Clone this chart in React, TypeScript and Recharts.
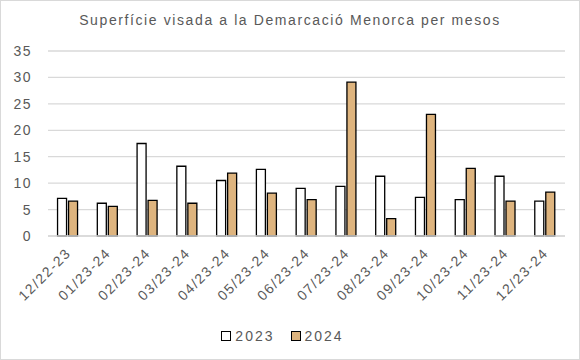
import React from 'react';
import { BarChart, Bar, XAxis, YAxis, CartesianGrid, Legend } from 'recharts';

const months = [
  '12/22-23', '01/23-24', '02/23-24', '03/23-24', '04/23-24', '05/23-24', '06/23-24',
  '07/23-24', '08/23-24', '09/23-24', '10/23-24', '11/23-24', '12/23-24',
];
const values2023 = [7.1, 6.2, 17.5, 13.2, 10.5, 12.6, 9.0, 9.4, 11.3, 7.3, 6.9, 11.3, 6.6];
const values2024 = [6.6, 5.6, 6.75, 6.2, 11.9, 8.1, 6.9, 29.1, 3.3, 23.0, 12.8, 6.6, 8.3];
const yTicks = [0, 5, 10, 15, 20, 25, 30, 35];

const data = months.map((m, i) => ({ month: m, y2023: values2023[i], y2024: values2024[i] }));

const FONT = '"Liberation Sans", Arial, sans-serif';
const TEXT = '#595959';

const XTick = (props: any) => {
  const { x, y, payload } = props;
  return (
    <text
      x={x + 4}
      y={y + 10}
      transform={`rotate(-45, ${x + 4}, ${y + 10})`}
      textAnchor="end"
      fontFamily={FONT}
      fontSize={14}
      letterSpacing={1.5}
      fill={TEXT}
    >
      {payload.value}
    </text>
  );
};

const LegendContent = () => (
  <div style={{ display: 'flex', justifyContent: 'center', gap: 16, marginTop: 8, fontFamily: FONT, fontSize: 14, letterSpacing: 2, color: TEXT }}>
    {[
      { name: '2023', fill: '#ffffff' },
      { name: '2024', fill: '#deb47e' },
    ].map((s) => (
      <span key={s.name} style={{ display: 'flex', alignItems: 'center', gap: 4 }}>
        <span style={{ width: 8, height: 8, border: '1px solid #000', background: s.fill, display: 'inline-block' }} />
        {s.name}
      </span>
    ))}
  </div>
);

const App: React.FC = () => {
  return (
    <div style={{ position: 'absolute', left: 0, top: 0, width: 580, height: 360, background: '#fff' }}>
      <style>{'body{margin:0}'}</style>
      <div
        style={{
          position: 'absolute', top: 12, left: 0, width: 580, textAlign: 'center',
          fontFamily: FONT, fontSize: 14, letterSpacing: 1.6, color: TEXT,
        }}
      >
        Superfície visada a la Demarcació Menorca per mesos
      </div>
      <BarChart
        width={580}
        height={360}
        data={data}
        margin={{ top: 51, right: 15, left: 0, bottom: 0 }}
        barCategoryGap="24%"
        barGap={2}
      >
        <CartesianGrid vertical={false} stroke="#d9d9d9" strokeWidth={1.3} />
        <XAxis
          dataKey="month"
          height={84}
          interval={0}
          tick={<XTick />}
          tickLine={false}
          axisLine={{ stroke: '#d9d9d9', strokeWidth: 1.3 }}
        />
        <YAxis
          width={48}
          domain={[0, 35]}
          ticks={yTicks}
          axisLine={false}
          tickLine={false}
          tickMargin={10}
          tick={{ fontFamily: FONT, fontSize: 14, fill: TEXT, letterSpacing: 1.5 }}
        />
        <Legend verticalAlign="bottom" height={40} content={<LegendContent />} />
        <Bar dataKey="y2023" name="2023" fill="#ffffff" stroke="#000" strokeWidth={1.3} isAnimationActive={false} />
        <Bar dataKey="y2024" name="2024" fill="#deb47e" stroke="#000" strokeWidth={1.3} isAnimationActive={false} />
      </BarChart>
      <div style={{ position: 'absolute', left: 0, top: 0, width: 580, height: 360, boxSizing: 'border-box', border: '1px solid #d9d9d9', pointerEvents: 'none' }} />
    </div>
  );
};

export default App;
